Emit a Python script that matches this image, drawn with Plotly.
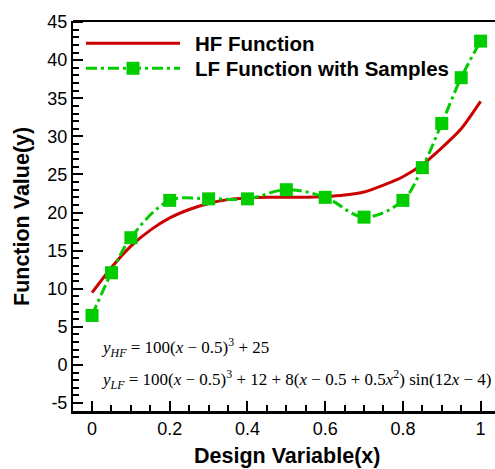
import plotly.graph_objects as go

# ---- data ----
hf_x = [0.0, 0.05, 0.1, 0.15, 0.2, 0.25, 0.3, 0.35, 0.4, 0.45, 0.5,
        0.55, 0.6, 0.65, 0.7, 0.75, 0.8, 0.85, 0.9, 0.95, 1.0]
hf_y = [9.5, 12.8, 15.6, 17.7, 19.3, 20.4, 21.2, 21.7, 21.9, 22.0, 22.0,
        22.0, 22.1, 22.3, 22.7, 23.6, 24.7, 26.3, 28.5, 31.0, 34.6]

lf_x = [0.0, 0.05, 0.1, 0.2, 0.3, 0.4, 0.5, 0.6, 0.7, 0.8, 0.85, 0.9, 0.95, 1.0]
lf_y = [6.5, 12.1, 16.7, 21.6, 21.8, 21.8, 23.0, 22.0, 19.4, 21.6, 25.9, 31.7, 37.7, 42.5]

x_ticks = [0, 0.2, 0.4, 0.6, 0.8, 1]
x_tick_labels = ["0", "0.2", "0.4", "0.6", "0.8", "1"]
y_ticks = [-5, 0, 5, 10, 15, 20, 25, 30, 35, 40, 45]
y_tick_labels = ["-5", "0", "5", "10", "15", "20", "25", "30", "35", "40", "45"]

legend_names = ["HF Function", "LF Function with Samples"]
eq_hf = "<i>y</i><sub><i>HF</i></sub> = 100(<i>x</i> \u2212 0.5)<sup>3</sup> + 25"
eq_lf = ("<i>y</i><sub><i>LF</i></sub> = 100(<i>x</i> \u2212 0.5)<sup>3</sup> + 12 + "
         "8(<i>x</i> \u2212 0.5 + 0.5<i>x</i><sup>2</sup>) sin(12<i>x</i> \u2212 4)")

RED = "#CC0000"
GREEN = "#00CC00"
DASHDOT = "11px,4px,3px,4px"

W, H = 495, 469
L, R, T, B = 73, 0, 21, 58
PW = W - L - R
PH = H - T - B


def px(xp):
    return (xp - L) / PW


def py(yp):
    return (H - B - yp) / PH


fig = go.Figure()
fig.add_trace(go.Scatter(x=hf_x, y=hf_y, mode="lines", name=legend_names[0],
                         line=dict(color=RED, width=3, shape="spline", smoothing=0.6),
                         showlegend=False))
fig.add_trace(go.Scatter(x=lf_x, y=lf_y, mode="lines+markers", name=legend_names[1],
                         line=dict(color=GREEN, width=3, dash=DASHDOT, shape="spline"),
                         marker=dict(symbol="square", size=13, color=GREEN),
                         showlegend=False))

tickfont = dict(family="Liberation Sans, Arial", size=18, color="black")

fig.update_layout(
    width=W, height=H,
    margin=dict(l=L, r=R, t=T, b=B, autoexpand=False),
    paper_bgcolor="white", plot_bgcolor="white",
    showlegend=False,
    xaxis=dict(range=[-0.049, 1.037], tickvals=x_ticks, ticktext=x_tick_labels,
               ticks="inside", ticklen=10, tickwidth=2, tickcolor="black",
               showline=True, linecolor="black", linewidth=2.5, mirror=False,
               showgrid=False, zeroline=False, tickfont=tickfont,
               minor=dict(dtick=0.05, tick0=0, ticks="inside", ticklen=6,
                          tickwidth=1.5, tickcolor="black", showgrid=False)),
    yaxis=dict(range=[-6.04, 45.14], tickvals=y_ticks, ticktext=y_tick_labels,
               ticks="inside", ticklen=10, tickwidth=2, tickcolor="black",
               showline=True, linecolor="black", linewidth=2, mirror=False,
               showgrid=False, zeroline=False, tickfont=tickfont,
               minor=dict(dtick=1, tick0=0, ticks="inside", ticklen=6,
                          tickwidth=1.5, tickcolor="black", showgrid=False)),
)

shapes = []
# top frame line (no right frame line in reference)
shapes.append(dict(type="line", xref="paper", yref="paper", x0=0, x1=1, y0=1, y1=1,
                   line=dict(color="black", width=2)))
# custom legend samples
shapes.append(dict(type="line", xref="paper", yref="paper", x0=px(86), x1=px(180),
                   y0=py(43.3), y1=py(43.3), line=dict(color=RED, width=3)))
shapes.append(dict(type="line", xref="paper", yref="paper", x0=px(86), x1=px(180),
                   y0=py(68.3), y1=py(68.3), line=dict(color=GREEN, width=3, dash=DASHDOT)))
shapes.append(dict(type="rect", xref="paper", yref="paper", x0=px(126.5), x1=px(139.5),
                   y0=py(74.8), y1=py(61.8), fillcolor=GREEN, line=dict(width=0)))
fig.update_layout(shapes=shapes)

ann = []
legfont = dict(family="Liberation Sans, Arial", size=20.5, color="black")
ann.append(dict(text="<b>%s</b>" % legend_names[0], xref="paper", yref="paper",
                x=px(193), y=py(43.3), xanchor="left", yanchor="middle",
                showarrow=False, font=legfont))
ann.append(dict(text="<b>%s</b>" % legend_names[1], xref="paper", yref="paper",
                x=px(193), y=py(68.3), xanchor="left", yanchor="middle",
                showarrow=False, font=legfont))
eqfont = dict(family="Liberation Serif, Times New Roman", size=17, color="black")
ann.append(dict(text=eq_hf, xref="paper", yref="paper", x=px(99), y=py(347),
                xanchor="left", yanchor="middle", showarrow=False, font=eqfont))
ann.append(dict(text=eq_lf, xref="paper", yref="paper", x=px(99), y=py(379),
                xanchor="left", yanchor="middle", showarrow=False, font=eqfont))
titlefont = dict(family="Liberation Sans, Arial", size=21.5, color="black")
ann.append(dict(text="<b>Design Variable(x)</b>", xref="paper", yref="paper",
                x=px(286.5), y=py(456), xanchor="center", yanchor="middle",
                showarrow=False, font=titlefont))
ann.append(dict(text="<b>Function Value(y)</b>", xref="paper", yref="paper",
                x=px(22), y=py(217), xanchor="center", yanchor="middle",
                textangle=-90, showarrow=False, font=titlefont))
fig.update_layout(annotations=ann)

fig.write_html("out.html")
